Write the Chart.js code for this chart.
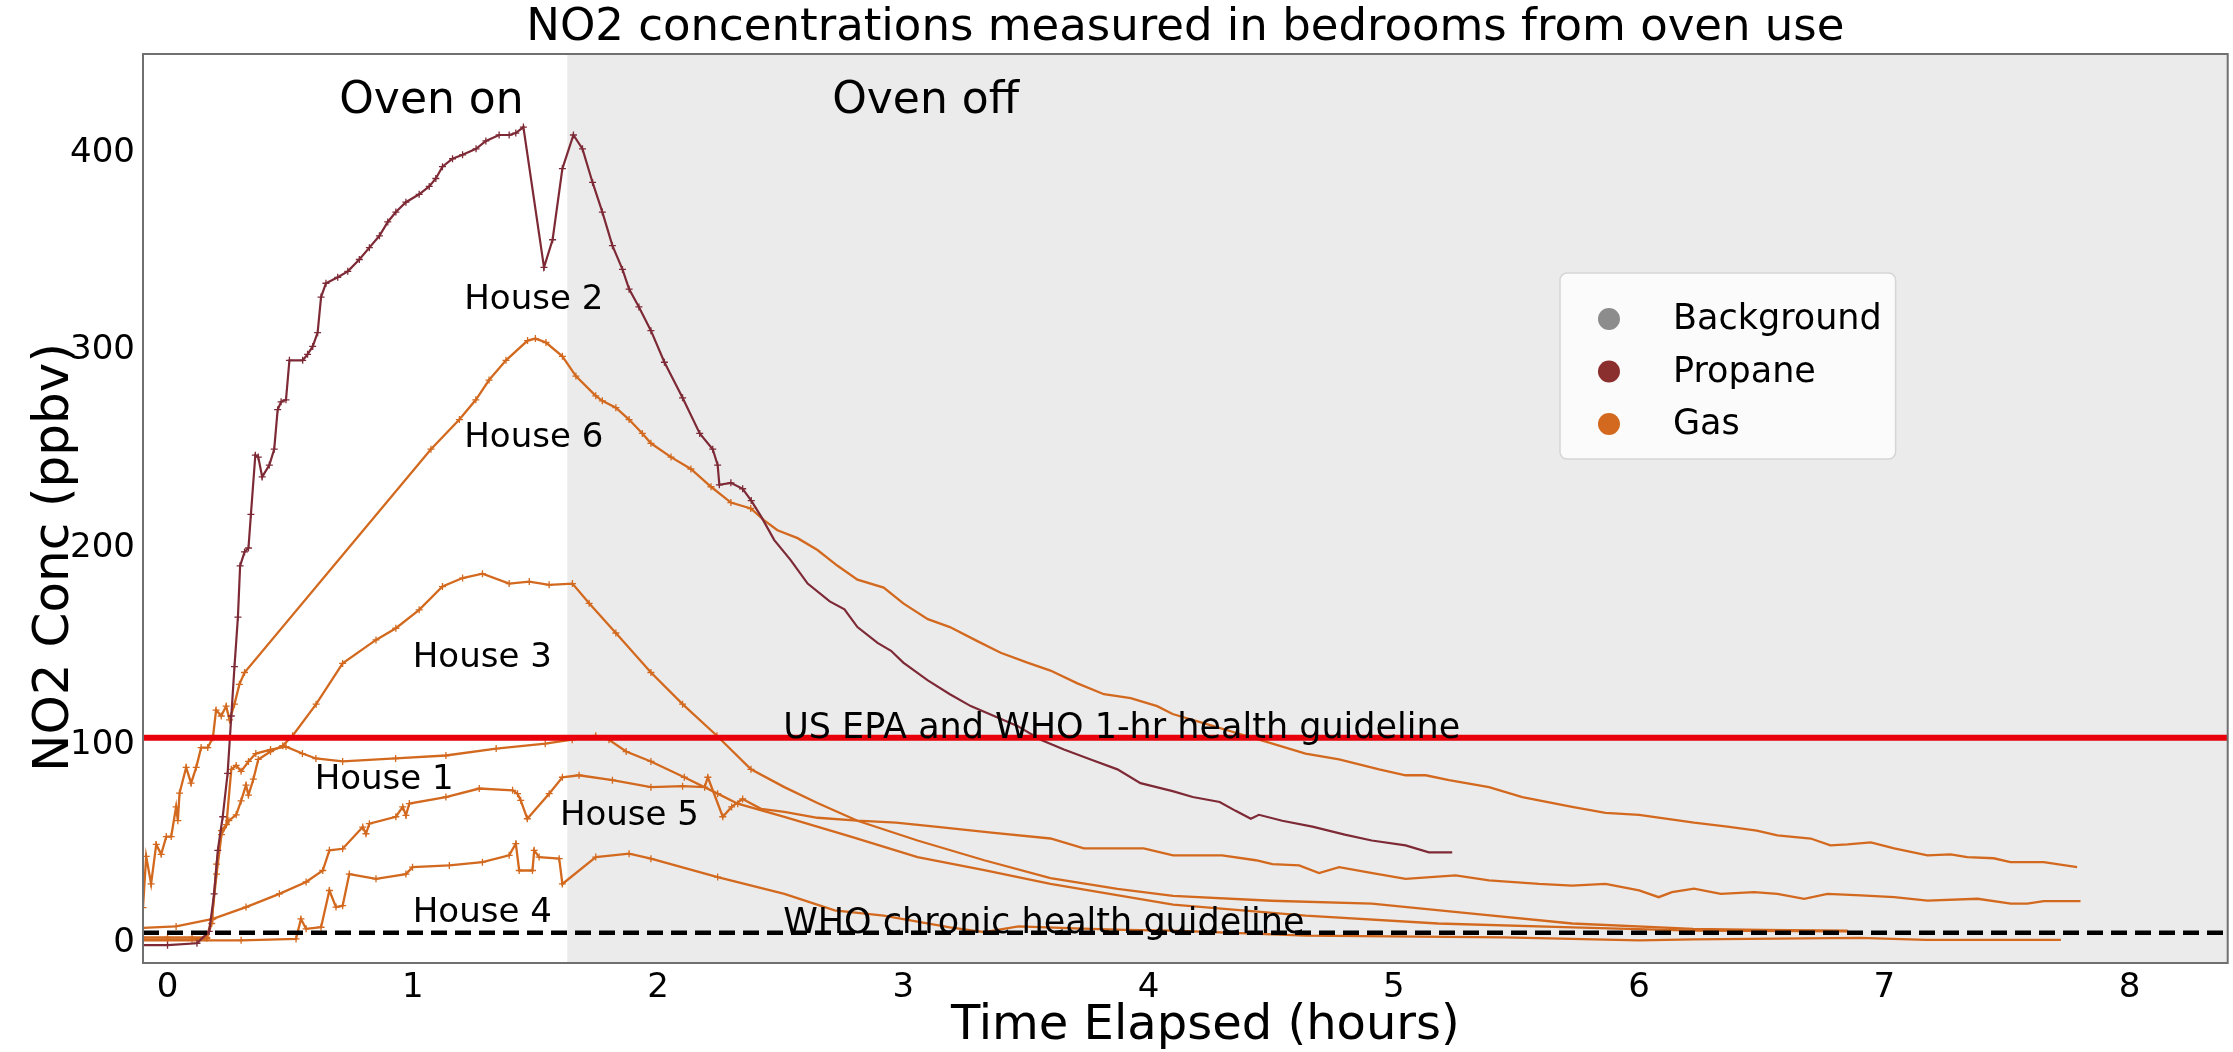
<!DOCTYPE html>
<html><head><meta charset="utf-8">
<script src="https://cdn.jsdelivr.net/npm/chart.js@4.4.1/dist/chart.umd.min.js"></script>
<style>html,body{margin:0;padding:0;background:#fff;}</style>
</head><body>
<canvas id="c" width="2233" height="1052"></canvas>
<script>
// ---------------- DATA ----------------
const chartTitle = 'NO2 concentrations measured in bedrooms from oven use';
const xAxisTitle = 'Time Elapsed (hours)';
const yAxisTitle = 'NO2 Conc (ppbv)';
const xTicks = [0,1,2,3,4,5,6,7,8];
const yTicks = [0,100,200,300,400];
const ovenOffTime = 1.63;
const shortTermGuideline = 104;
const chronicGuideline = 5.3;
const shortTermLabel = 'US EPA and WHO 1-hr health guideline';
const chronicLabel = 'WHO chronic health guideline';
const legendLabels = ['Background','Propane','Gas'];

// House 2 (propane)
const house2Time = [-0.1,0.0,0.12,0.17,0.19,0.205,0.225,0.245,0.26,0.273,0.287,0.296,0.314,0.33,0.34,0.358,0.37,0.386,0.415,0.435,0.449,0.463,0.483,0.497,0.551,0.571,0.592,0.612,0.626,0.646,0.694,0.735,0.782,0.823,0.864,0.898,0.931,0.972,1.026,1.067,1.094,1.121,1.162,1.203,1.258,1.298,1.352,1.393,1.42,1.451,1.535,1.57,1.61,1.655,1.692,1.733,1.773,1.814,1.855,1.882,1.922,1.971,2.026,2.1,2.17,2.223,2.243,2.25,2.297,2.345,2.38,2.42,2.474,2.54,2.61,2.7,2.76,2.813,2.895,2.95,3.0,3.1,3.19,3.275,3.37,3.465,3.56,3.655,3.764,3.873,3.967,4.098,4.18,4.29,4.355,4.417,4.45,4.545,4.668,4.8,4.91,5.048,5.143,5.238];
const house2Conc = [-1,-1,0,6,25,47,64,86,115,140,165,191,198,200,217,247,246,236,242,250,270,274,275,295,295,298,302,309,327,334,337,340,346,352,358,365,370,375,379,383,387,393,397,399,402,406,409,409,410,413,342,356,392,409,402,385,370,353,341,331,322,310,294,276,258,250,242,232,233,230,224,216,204,194,182,173,169,160,152,148,142,133,126,120,115,110,103,98,93,88,81,77,74,71.5,67,63,65,62,59,55,52,49.5,46,46];

// House 6 (gas)
const house6Time = [-0.1,-0.087,-0.067,-0.046,-0.026,-0.005,0.015,0.035,0.042,0.049,0.076,0.096,0.117,0.137,0.164,0.185,0.198,0.219,0.239,0.253,0.273,0.293,0.314,1.074,1.19,1.257,1.311,1.38,1.468,1.5,1.543,1.61,1.665,1.746,1.773,1.828,1.882,1.936,1.971,2.053,2.134,2.216,2.297,2.378,2.433,2.487,2.569,2.65,2.732,2.813,2.92,3.0,3.1,3.19,3.3,3.397,3.506,3.6,3.71,3.818,3.927,4.035,4.098,4.234,4.41,4.505,4.64,4.777,4.94,5.048,5.13,5.225,5.388,5.524,5.727,5.863,6.0,6.224,6.36,6.48,6.564,6.7,6.78,6.85,6.945,7.04,7.176,7.27,7.338,7.446,7.514,7.65,7.786];
const house6Conc = [18,44,30,50,45,54,54,69,62,76,89,81,89,99,99,104,118,115,120,113,121,131,137,250,265,275,285,295,305,306,304,297,287,277,274.5,271,265,258,253,246,240,231,223,220,214,209,205,199,191,184,180,172,164,160,153,147,142,138,131.5,126,124,120,116,111,104.5,101,96,93,88,85,85,82.5,79,74,69,66,65,61,59,57,54.6,53,49.5,50,51,48,44.5,45,43.6,43,41,41,38.5];

// House 3 (gas)
const house3Time = [-0.1,0.0,0.1,0.16,0.18,0.2,0.22,0.25,0.28,0.3,0.32,0.33,0.35,0.37,0.42,0.47,0.51,0.606,0.714,0.85,0.931,1.026,1.121,1.203,1.284,1.393,1.475,1.556,1.651,1.719,1.828,1.971,2.1,2.24,2.379,2.515,2.65,2.813,3.058,3.33,3.6,3.873,4.1,4.5,4.91,5.32,5.727,6.22,6.5,6.85];
const house3Conc = [3,3,3,3,12,35,55,62,65,72,80,75,83,93,97,100,105,121,141.6,153.5,159.4,168.7,180.5,184.8,187,182,183,181.4,182,172,157,137,121,105,88,79,71,62,52,42,33,27.5,24,21.5,20,15,10,7.3,6.8,6.4];

// House 1 (gas)
const house1Time = [-0.1,0.0,0.1,0.16,0.18,0.2,0.22,0.24,0.26,0.28,0.3,0.33,0.36,0.42,0.483,0.55,0.605,0.714,0.93,1.135,1.34,1.54,1.65,1.746,1.8,1.87,1.971,2.107,2.243,2.325,2.515,2.786,3.058,3.33,3.6,4.1,4.64,5.18,5.73,6.22,6.85];
const house1Conc = [2,2,2,2.5,10,40,57,60,88,90,87,92,96,98,99.5,96,93.5,92,93.5,95,98.5,101,103,105,103,97,92,84,75.7,70.6,64,54,43.6,37,30,19.5,14,10,8,6.4,6];

// House 5 (gas)
const house5Time = [-0.1,0.035,0.185,0.32,0.456,0.565,0.633,0.66,0.714,0.796,0.809,0.823,0.931,0.959,0.972,0.986,1.135,1.271,1.407,1.427,1.44,1.467,1.556,1.61,1.678,1.814,1.971,2.1,2.19,2.203,2.264,2.3,2.345,2.42,2.515,2.65,2.813,2.97,3.13,3.36,3.6,3.736,3.98,4.1,4.3,4.437,4.505,4.614,4.695,4.777,4.913,5.048,5.252,5.388,5.592,5.727,5.863,6.0,6.08,6.134,6.224,6.333,6.469,6.564,6.673,6.768,6.904,7.04,7.176,7.38,7.516,7.583,7.65,7.8];
const house5Conc = [7.8,8.5,12.3,18.3,25,31,36.8,47,47.8,58.8,55.4,60.5,64,69,64.7,70.7,74,78.3,77.4,75.7,72.3,63,75.7,84,85,82.5,79,79.5,79,84,64,69,73,68,66.5,63.5,62,61,59,56,53,48,48,44.5,44.5,42,40,39.4,35.5,38.5,35.5,32.6,34.3,31.8,30,29.2,30,26.7,23.3,25.9,27.6,25,25.9,25,22.5,25,24.2,23.3,21.6,22.5,20,20,21.3,21.3];

// House 4 (gas)
const house4Time = [-0.1,0.3,0.524,0.544,0.565,0.626,0.66,0.687,0.714,0.741,0.85,0.972,0.999,1.149,1.284,1.393,1.42,1.434,1.488,1.495,1.515,1.597,1.61,1.746,1.882,1.971,2.243,2.515,2.72,2.92,3.19,3.33,3.47,3.7,3.9,4.1,4.64,5.45,6.0,6.22,6.9,7.17,7.72];
const house4Conc = [1.4,1.5,2.2,12.3,7.3,8.1,26.7,18.3,19,35,32.6,35,38.5,39.4,41,44.5,50.4,36.8,36.8,47,43.6,42.8,30,43.6,45.3,42.8,33.5,25,16.6,14,8,5.6,8.5,7.5,6.8,6.4,3.9,3,1.4,2,2.7,1.7,1.7];

// House label anchors (data coords) and text
const houseLabels = ['House 2','House 6','House 3','House 1','House 5','House 4'];
const houseLabelX = [1.21,1.21,1.0,0.6,1.6,1.0];
const houseLabelY = [321,251,140,78,60,10.5];
const ovenLabels = ['Oven on','Oven off'];
const ovenLabelX = [0.7,2.71];
const ovenLabelY = [420,420];
const guidelineLabelX = 2.51;

// ---------------- STYLE ----------------
const FONT = "'DejaVu Sans', 'Noto Sans', sans-serif";
const gasColor = '#d2691e';
const propaneColor = '#7d2a36';
const legendColors = ['#8c8c8c','#8b2e2e','#d2691e'];
const markerCutoff = 2.4;

function series(label, t, c, color, w) {
  return { label, data: t.map((x, i) => ({x, y: c[i]})), borderColor: color, borderWidth: w,
           pointStyle: 'cross', pointBorderColor: color, pointBorderWidth: 1.3,
           pointRadius: ctx => (ctx.raw && ctx.raw.x < markerCutoff ? 3.5 : 0),
           tension: 0, fill: false, order: 1 };
}
const xMin = -0.1, xMax = 8.4;
const datasets = [
  { label: shortTermLabel, data: [{x:xMin,y:shortTermGuideline},{x:xMax,y:shortTermGuideline}],
    borderColor: '#e8000b', borderWidth: 6, pointRadius: 0, order: 0 },
  { label: chronicLabel, data: [{x:xMin,y:chronicGuideline},{x:xMax,y:chronicGuideline}],
    borderColor: '#000', borderWidth: 4.5, borderDash: [16,8], pointRadius: 0, order: 0 },
  series('House 2', house2Time, house2Conc, propaneColor, 2.2),
  series('House 6', house6Time, house6Conc, gasColor, 2.3),
  series('House 3', house3Time, house3Conc, gasColor, 2.3),
  series('House 1', house1Time, house1Conc, gasColor, 2.3),
  series('House 5', house5Time, house5Conc, gasColor, 2.3),
  series('House 4', house4Time, house4Conc, gasColor, 2.3),
];

const decor = {
  id: 'decor',
  beforeDatasetsDraw(chart) {
    const {ctx, chartArea: a, scales: {x}} = chart;
    ctx.save();
    ctx.fillStyle = '#ffffff';
    ctx.fillRect(a.left, a.top, a.right - a.left, a.bottom - a.top);
    const xs = x.getPixelForValue(ovenOffTime);
    ctx.fillStyle = '#ebebeb';
    ctx.fillRect(xs, a.top, a.right - xs, a.bottom - a.top);
    ctx.restore();
  },
  afterDatasetsDraw(chart) {
    const {ctx, chartArea: a, scales: {x, y}} = chart;
    ctx.save();
    ctx.fillStyle = '#000';
    ctx.textBaseline = 'alphabetic';
    ctx.textAlign = 'left';
    ctx.font = '34px ' + FONT;
    houseLabels.forEach((t, i) => ctx.fillText(t, x.getPixelForValue(houseLabelX[i]), y.getPixelForValue(houseLabelY[i])));
    ctx.font = '35px ' + FONT;
    ctx.fillText(shortTermLabel, x.getPixelForValue(guidelineLabelX), y.getPixelForValue(shortTermGuideline));
    ctx.fillText(chronicLabel, x.getPixelForValue(guidelineLabelX), y.getPixelForValue(chronicGuideline));
    ctx.font = '44px ' + FONT;
    ovenLabels.forEach((t, i) => ctx.fillText(t, x.getPixelForValue(ovenLabelX[i]), y.getPixelForValue(ovenLabelY[i])));

    // legend
    const W = a.right - a.left, H = a.bottom - a.top;
    const bx = a.left + 0.6797 * W, by = a.top + 0.241 * H;
    const bw = 0.161 * W, bh = 0.2045 * H;
    ctx.beginPath();
    ctx.roundRect(bx, by, bw, bh, 7);
    ctx.fillStyle = 'rgba(255,255,255,0.8)';
    ctx.fill();
    ctx.strokeStyle = '#d6d6d6';
    ctx.lineWidth = 1.5;
    ctx.stroke();
    ctx.font = '35px ' + FONT;
    ctx.textBaseline = 'middle';
    legendLabels.forEach((t, i) => {
      const cy = by + 46 + i * 52.5;
      ctx.beginPath();
      ctx.arc(bx + 49, cy, 11, 0, Math.PI * 2);
      ctx.fillStyle = legendColors[i];
      ctx.fill();
      ctx.fillStyle = '#000';
      ctx.fillText(t, bx + 113, cy + 1);
    });

    // frame
    ctx.strokeStyle = '#707070';
    ctx.lineWidth = 2;
    ctx.strokeRect(a.left, a.top, a.right - a.left, a.bottom - a.top);

    // title and axis titles
    ctx.fillStyle = '#000';
    ctx.textAlign = 'center';
    ctx.textBaseline = 'middle';
    ctx.font = '45px ' + FONT;
    ctx.fillText(chartTitle, (a.left + a.right) / 2, 28);
    ctx.font = '48px ' + FONT;
    ctx.fillText(xAxisTitle, (a.left + a.right) / 2 + 20, a.bottom + 64);
    ctx.save();
    ctx.translate(55, (a.top + a.bottom) / 2 + 49);
    ctx.rotate(-Math.PI / 2);
    ctx.font = '50px ' + FONT;
    ctx.fillText(yAxisTitle, 0, 0);
    ctx.restore();
    ctx.restore();
  }
};

Chart.defaults.font.family = FONT;
Chart.defaults.color = '#000';

new Chart(document.getElementById('c'), {
  type: 'line',
  data: { datasets },
  plugins: [decor],
  options: {
    responsive: false, animation: false, devicePixelRatio: 1,
    layout: { padding: { left: 0, right: 2, top: 54, bottom: 0 } },
    plugins: {
      legend: { display: false },
      tooltip: { enabled: false },
      title: { display: false }
    },
    scales: {
      x: {
        type: 'linear', min: xMin, max: xMax,
        grid: { display: false, drawTicks: false }, border: { display: false },
        afterBuildTicks: s => { s.ticks = xTicks.map(v => ({ value: v })); },
        ticks: { font: { size: 34 }, padding: 5, color: '#000', maxRotation: 0, autoSkip: false },
        title: { display: false },
        afterFit: s => { s.height = 89; }
      },
      y: {
        type: 'linear', min: -10, max: 450,
        grid: { display: false, drawTicks: false }, border: { display: false },
        afterBuildTicks: s => { s.ticks = yTicks.map(v => ({ value: v })); },
        ticks: { font: { size: 34 }, padding: 8, color: '#000', autoSkip: false },
        title: { display: false },
        afterFit: s => { s.width = 143; }
      }
    }
  }
});
</script>
</body></html>
